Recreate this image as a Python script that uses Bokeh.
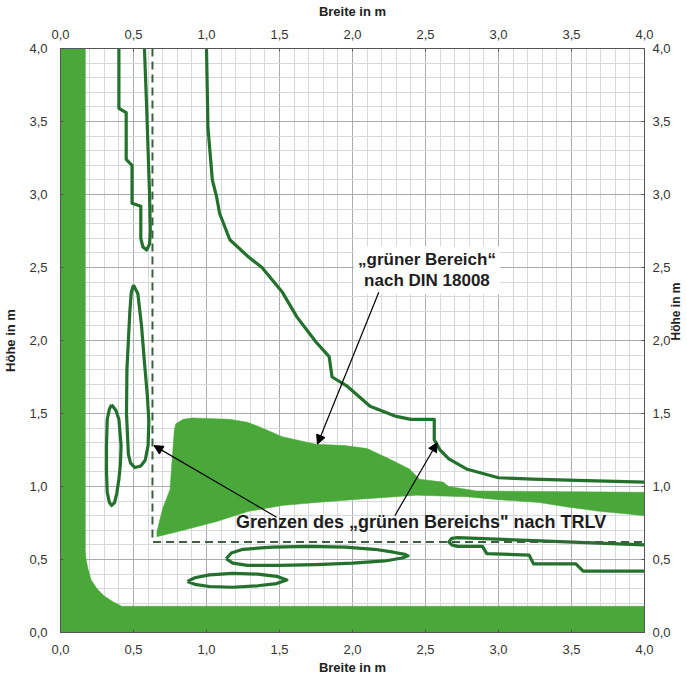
import math
import numpy as np
from bokeh.plotting import figure
from bokeh.models import (LinearAxis, FixedTicker, Label, Arrow, NormalHead,
                          Range1d, CustomJSTickFormatter)
from bokeh.embed import file_html
from bokeh.resources import INLINE

# ---------------- data (metres) ----------------
major_ticks = [0.0, 0.5, 1.0, 1.5, 2.0, 2.5, 3.0, 3.5, 4.0]
minor_ticks = [round(v, 1) for v in np.arange(0.0, 4.01, 0.1)]

# L-shaped green frame (left bar + bottom bar)
frame_x = [0, 4, 4, 0.42, 0.36, 0.30, 0.25, 0.21, 0.19, 0.175, 0.17, 0.17, 0]
frame_y = [0, 0, 0.18, 0.18, 0.21, 0.25, 0.30, 0.36, 0.43, 0.50, 0.56, 4, 4]

# green area "grüner Bereich nach DIN 18008" incl. band to the right
din_x = [0.78, 0.79, 0.84, 0.90, 1.16, 1.28, 1.36, 1.52, 1.75, 1.95, 2.10, 2.25, 2.39,
         2.46, 2.62, 2.66, 2.85, 4.0,
         4.0, 3.9, 3.69, 3.47, 3.28, 3.0, 2.78, 2.44, 2.0, 1.75, 1.52, 1.29, 1.07, 0.84,
         0.66, 0.66, 0.70, 0.75, 0.77]
din_y = [1.39, 1.43, 1.46, 1.47, 1.46, 1.44, 1.41, 1.34, 1.29, 1.28, 1.26, 1.19, 1.12,
         1.05, 1.03, 1.00, 0.97, 0.96,
         0.80, 0.81, 0.83, 0.86, 0.89, 0.91, 0.93, 0.94, 0.91, 0.89, 0.87, 0.83, 0.76, 0.70,
         0.655, 0.69, 0.85, 0.98, 1.26]

# contour lines
hyp_x = [1.0, 1.01, 1.04, 1.07, 1.09, 1.16, 1.29, 1.38, 1.52, 1.62, 1.75, 1.84, 1.86,
         1.96, 2.12, 2.30, 2.40, 2.56, 2.56, 2.60, 2.66, 2.78, 3.0, 3.23, 3.6, 4.0]
hyp_y = [4.0, 3.46, 3.10, 2.98, 2.87, 2.69, 2.57, 2.50, 2.33, 2.16, 1.99, 1.89, 1.75,
         1.69, 1.55, 1.48, 1.46, 1.46, 1.32, 1.25, 1.19, 1.12, 1.06, 1.05, 1.04, 1.03]

u_x = [0.40, 0.40, 0.45, 0.45, 0.49, 0.49, 0.55, 0.55, 0.565, 0.59, 0.61, 0.615, 0.61,
       0.60, 0.59, 0.575]
u_y = [4.0, 3.59, 3.56, 3.24, 3.20, 2.94, 2.92, 2.70, 2.64, 2.62, 2.66, 2.75, 3.0,
       3.3, 3.6, 4.0]

e1_x = [0.50, 0.53, 0.555, 0.575, 0.595, 0.605, 0.60, 0.58, 0.55, 0.51, 0.48, 0.465,
        0.452, 0.455, 0.465, 0.475, 0.485, 0.50]
e1_y = [2.38, 2.32, 2.10, 1.85, 1.62, 1.45, 1.28, 1.18, 1.14, 1.13, 1.16, 1.22,
        1.50, 1.80, 2.00, 2.20, 2.33, 2.38]

e2_x = [0.35, 0.38, 0.40, 0.415, 0.41, 0.40, 0.385, 0.37, 0.35, 0.335, 0.32, 0.315,
        0.315, 0.32, 0.335, 0.35]
e2_y = [1.56, 1.52, 1.46, 1.28, 1.15, 1.05, 0.95, 0.89, 0.87, 0.89, 0.96, 1.10,
        1.28, 1.46, 1.53, 1.56]

e3_x = [1.135, 1.17, 1.25, 1.45, 1.70, 1.95, 2.15, 2.28, 2.36, 2.38, 2.34, 2.22, 2.0,
        1.75, 1.50, 1.28, 1.18, 1.135]
e3_y = [0.505, 0.545, 0.57, 0.585, 0.59, 0.585, 0.57, 0.55, 0.535, 0.525, 0.51, 0.49,
        0.475, 0.465, 0.46, 0.46, 0.475, 0.505]

e4_x = [0.87, 0.92, 1.02, 1.18, 1.35, 1.48, 1.55, 1.48, 1.35, 1.18, 1.02, 0.92, 0.87]
e4_y = [0.35, 0.375, 0.395, 0.405, 0.40, 0.385, 0.36, 0.335, 0.32, 0.31, 0.315, 0.33, 0.35]

st_x = [4.0, 2.72, 2.68, 2.66, 2.68, 2.72, 2.89, 2.92, 3.21, 3.24, 3.53, 3.58, 4.0]
st_y = [0.60, 0.65, 0.645, 0.62, 0.60, 0.59, 0.59, 0.54, 0.53, 0.47, 0.47, 0.42, 0.42]

# TRLV boundary (dashed)
trlv_x = [0.63, 0.63, 4.0]
trlv_y = [4.0, 0.62, 0.62]

# annotations
din_text = "„grüner Bereich“\nnach DIN 18008"
din_pos = (2.51, 2.48)
trlv_text = "Grenzen des „grünen Bereichs\" nach TRLV"
trlv_pos = (2.47, 0.755)
arrows = [  # x_start, y_start, x_end, y_end
    (2.18, 2.33, 1.76, 1.29),
    (1.48, 0.79, 0.64, 1.28),
    (2.29, 0.80, 2.58, 1.30),
]

# ---------------- styling ----------------
FILL = "#4aa83a"
LINE = "#23712c"
FONT = "Liberation Sans"

p = figure(frame_width=584, frame_height=584,
           x_range=Range1d(0, 4), y_range=Range1d(0, 4),
           output_backend="svg", toolbar_location=None,
           min_border_left=30, min_border_right=30, min_border_top=30,
           min_border_bottom=30, background_fill_color="white",
           border_fill_color="white", outline_line_color="#555555")

bottom_axis = p.below[0]
left_axis = p.left[0]
top_axis = LinearAxis()
right_axis = LinearAxis()
p.add_layout(top_axis, "above")
p.add_layout(right_axis, "right")

ticker = FixedTicker(ticks=major_ticks, minor_ticks=minor_ticks)
fmt = CustomJSTickFormatter(code="return tick.toFixed(1).replace('.', ',');")

for g in (p.xgrid, p.ygrid):
    g.ticker = ticker
    g.grid_line_color = "#a8acb0"
    g.grid_line_width = 1
    g.minor_grid_line_color = "#d6dadd"
    g.minor_grid_line_width = 1

for ax in (bottom_axis, left_axis, top_axis, right_axis):
    ax.ticker = ticker
    ax.formatter = fmt
    ax.major_label_text_font = FONT
    ax.major_label_text_font_size = "13px"
    ax.major_label_text_color = "#333333"
    ax.axis_line_color = "#555555"
    ax.major_tick_line_color = "#555555"
    ax.major_tick_in = 3
    ax.major_tick_out = 0
    ax.minor_tick_line_color = None
    ax.axis_label_text_font = FONT
    ax.axis_label_text_font_size = "13px"
    ax.axis_label_text_font_style = "bold"
    ax.axis_label_text_color = "#222222"

bottom_axis.axis_label = "Breite in m"
bottom_axis.major_label_standoff = 8
bottom_axis.axis_label_standoff = 3
top_axis.axis_label = "Breite in m"
top_axis.major_label_standoff = 6
top_axis.axis_label_standoff = 8
left_axis.axis_label = "Höhe in m"
left_axis.major_label_standoff = 9
left_axis.axis_label_standoff = 8
right_axis.axis_label = "Höhe in m"
right_axis.major_label_standoff = 4
right_axis.axis_label_standoff = 2
right_axis.axis_label_text_font_size = "12px"
try:  # read bottom-to-top like the reference
    right_axis.axis_label_orientation = math.pi / 2
except Exception:
    pass

# fills
p.patch(frame_x, frame_y, fill_color=FILL, line_color=FILL, line_width=0.5)
p.patch(din_x, din_y, fill_color=FILL, line_color=FILL, line_width=0.5)

# contour lines
for xs, ys in ((hyp_x, hyp_y), (u_x, u_y), (e1_x, e1_y), (e2_x, e2_y),
               (e3_x, e3_y), (e4_x, e4_y), (st_x, st_y)):
    p.line(xs, ys, line_color=LINE, line_width=3.2, line_join="round")

p.line(trlv_x, trlv_y, line_color="#3f5f42", line_width=2, line_dash="8 5")

# texts
p.add_layout(Label(x=din_pos[0], y=din_pos[1], text=din_text, text_align="center",
                   text_baseline="middle", text_font=FONT, text_font_size="17px",
                   text_font_style="bold", text_color="#1e1e1e",
                   text_line_height=1.1, background_fill_color="white",
                   padding=4))
p.add_layout(Label(x=trlv_pos[0], y=trlv_pos[1], text=trlv_text, text_align="center",
                   text_baseline="middle", text_font=FONT, text_font_size="18px",
                   text_font_style="bold", text_color="#1e1e1e"))

for xs0, ys0, xe, ye in arrows:
    p.add_layout(Arrow(end=NormalHead(size=9, fill_color="black", line_color="black",
                                      line_width=1),
                       x_start=xs0, y_start=ys0, x_end=xe, y_end=ye,
                       line_color="black", line_width=1.2))

open("out.html", "w").write(file_html(p, INLINE))
